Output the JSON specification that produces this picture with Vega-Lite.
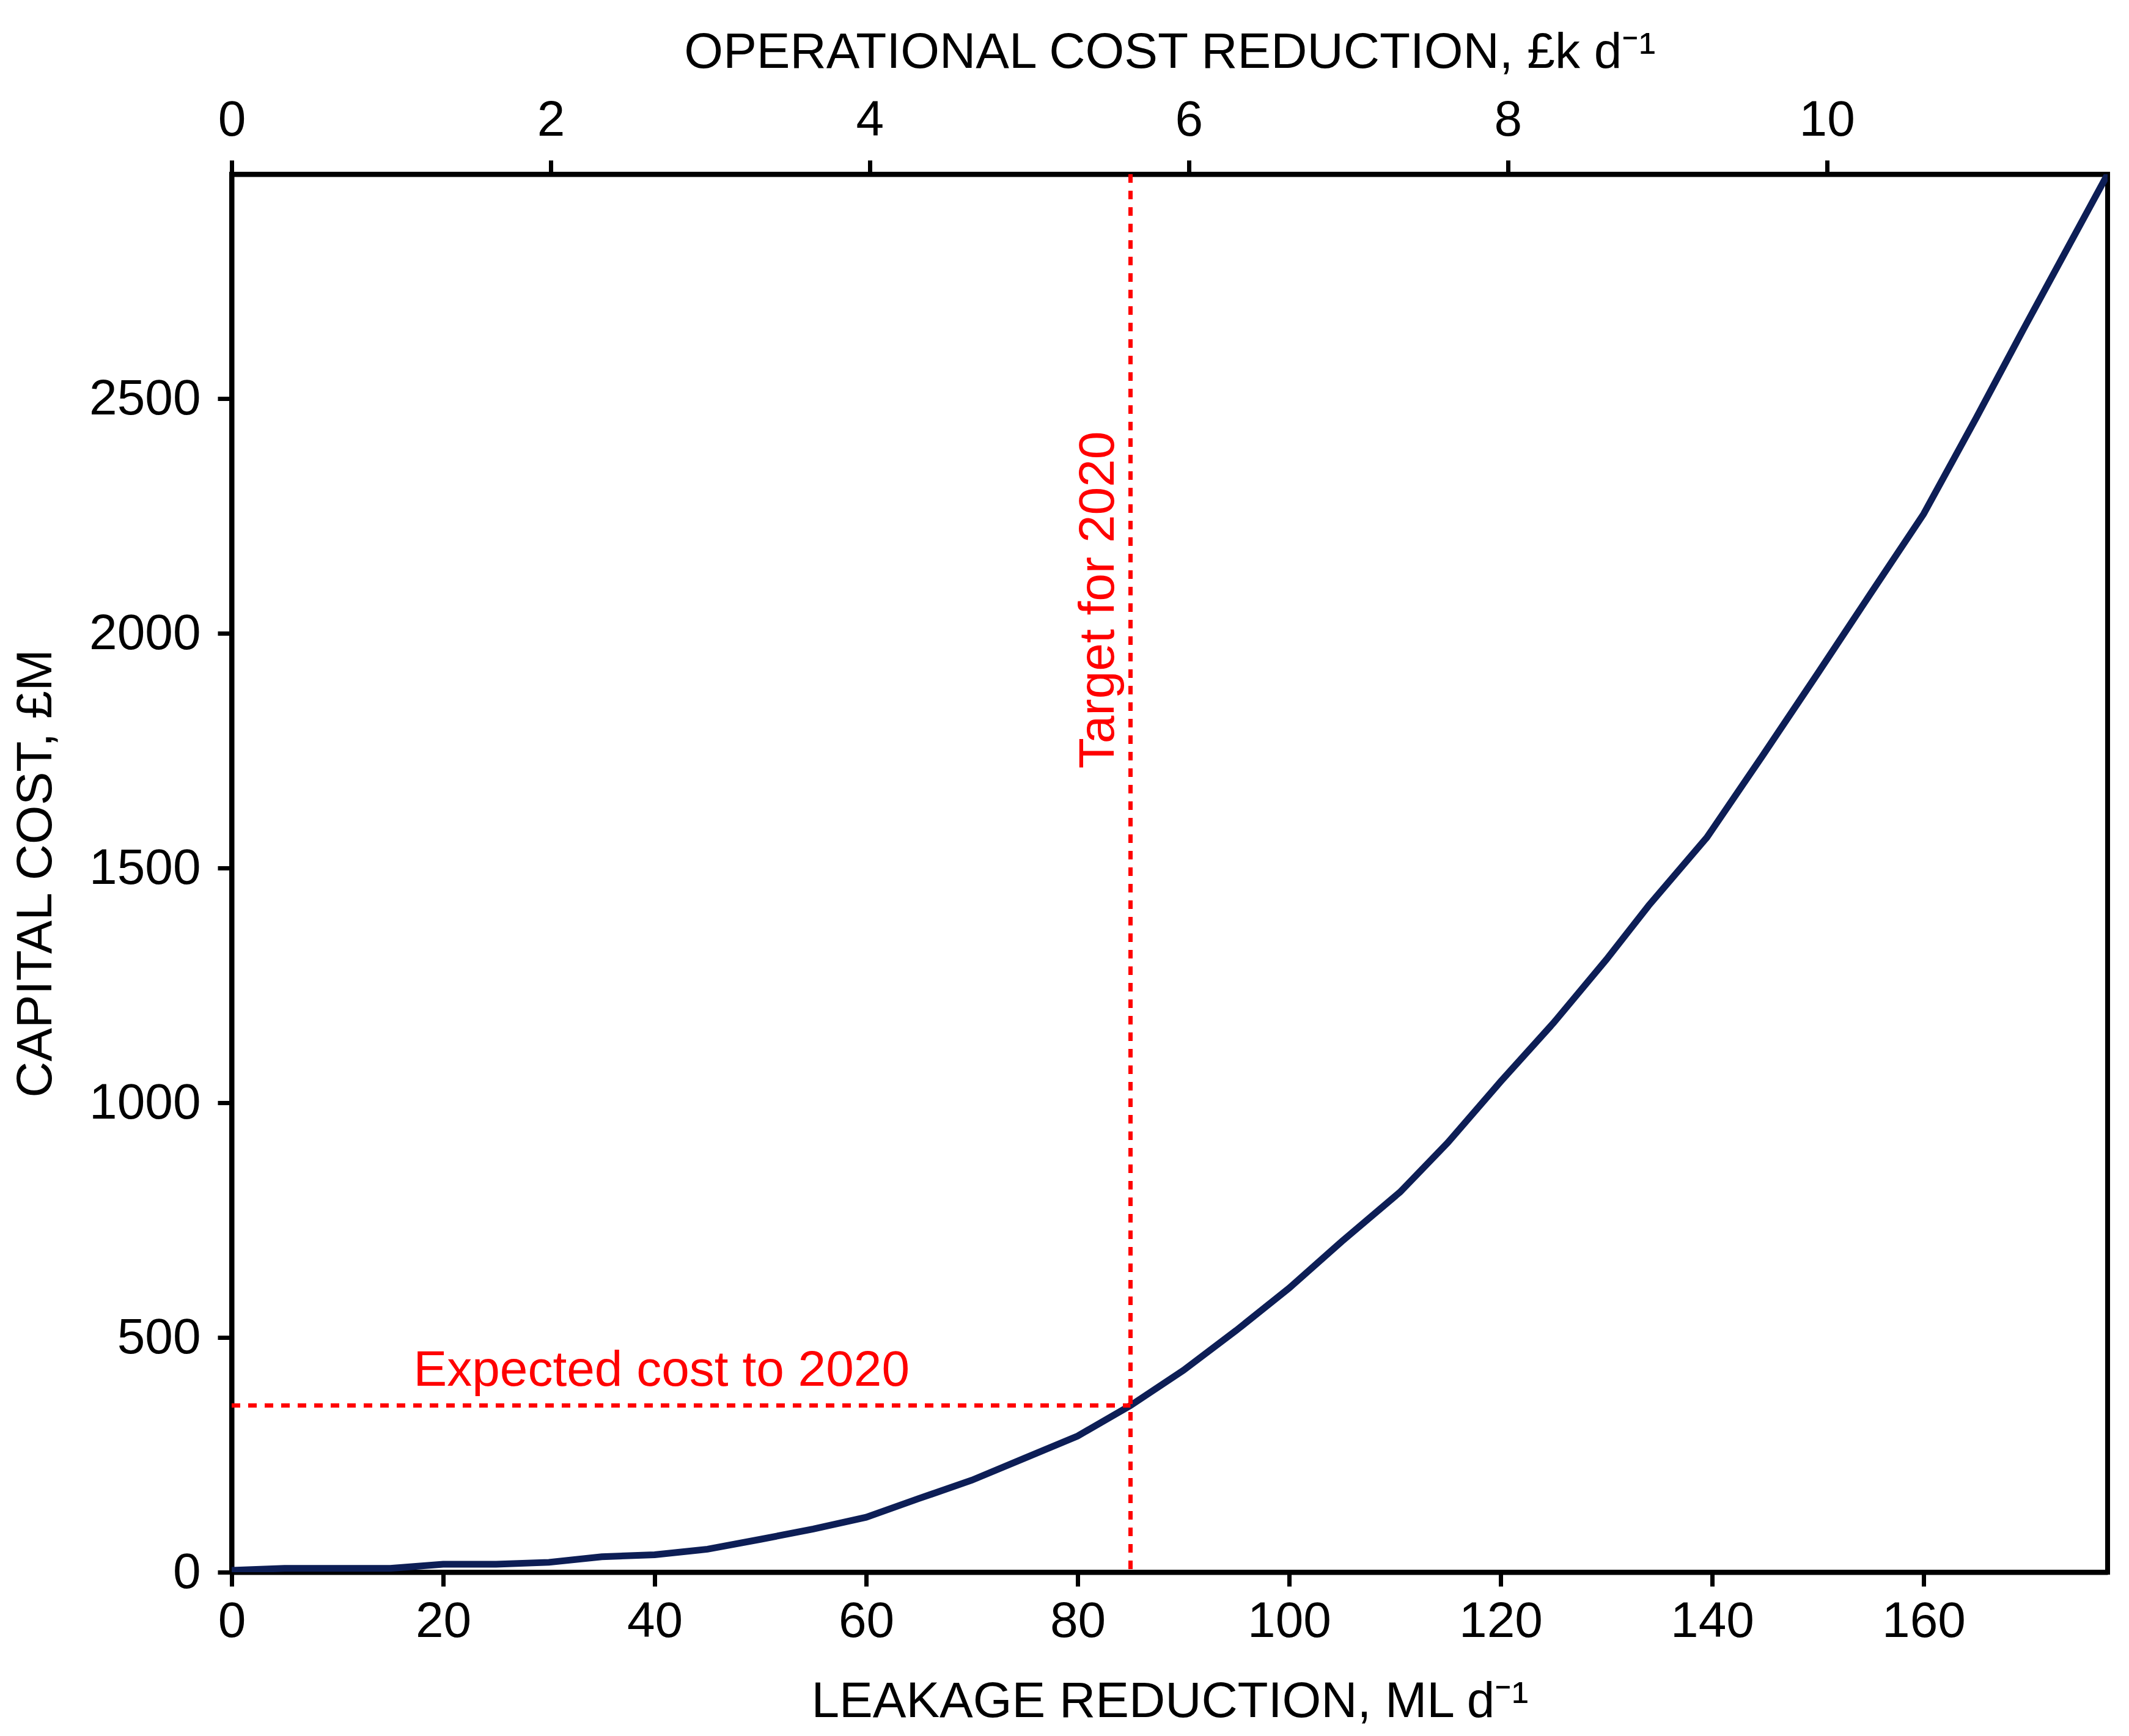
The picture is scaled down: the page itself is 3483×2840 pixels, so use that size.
{
  "$schema": "https://vega.github.io/schema/vega-lite/v6.json",
  "autosize": {"type": "none"},
  "padding": {"left": 379, "top": 285, "right": 35, "bottom": 268},
  "width": 3069,
  "height": 2287,
  "background": "white",
  "config": {
    "font": "Liberation Sans",
    "view": {"stroke": "black", "strokeWidth": 8},
    "axis": {
      "grid": false,
      "domainColor": "black",
      "domainWidth": 8,
      "tickColor": "black",
      "tickWidth": 7,
      "tickSize": 23,
      "labelFont": "Liberation Sans",
      "labelFontSize": 82,
      "labelColor": "black",
      "labelFlush": false,
      "labelOverlap": false,
      "labelLimit": 0,
      "titleFont": "Liberation Sans",
      "titleFontSize": 82,
      "titleFontWeight": "normal",
      "titleColor": "black",
      "titleLimit": 0,
      "format": "d"
    }
  },
  "layer": [
    {
      "layer": [
        {
          "data": {
            "values": [
              {"leak": 0, "cost": 4},
              {"leak": 5, "cost": 8},
              {"leak": 10, "cost": 8},
              {"leak": 15, "cost": 8},
              {"leak": 20, "cost": 17},
              {"leak": 25, "cost": 17},
              {"leak": 30, "cost": 21},
              {"leak": 35, "cost": 33},
              {"leak": 40, "cost": 37},
              {"leak": 45, "cost": 49},
              {"leak": 50, "cost": 70},
              {"leak": 55, "cost": 92},
              {"leak": 60, "cost": 117},
              {"leak": 65, "cost": 157},
              {"leak": 70, "cost": 196},
              {"leak": 75, "cost": 243},
              {"leak": 80, "cost": 290},
              {"leak": 85, "cost": 355},
              {"leak": 90, "cost": 430},
              {"leak": 95, "cost": 515},
              {"leak": 100, "cost": 605},
              {"leak": 105, "cost": 705},
              {"leak": 110.5, "cost": 810},
              {"leak": 115, "cost": 915},
              {"leak": 120, "cost": 1045},
              {"leak": 125, "cost": 1170},
              {"leak": 130, "cost": 1305},
              {"leak": 134, "cost": 1420},
              {"leak": 139.5, "cost": 1565},
              {"leak": 144.7, "cost": 1737},
              {"leak": 150, "cost": 1915},
              {"leak": 155, "cost": 2085},
              {"leak": 160, "cost": 2254},
              {"leak": 165, "cost": 2460},
              {"leak": 169.4, "cost": 2646},
              {"leak": 177.4, "cost": 2978}
            ]
          },
          "mark": {"type": "line", "color": "#0d1e56", "strokeWidth": 11, "clip": true},
          "encoding": {
            "x": {
              "field": "leak",
              "type": "quantitative",
              "scale": {"domain": [0, 177.4], "nice": false, "zero": false},
              "axis": {
                "orient": "bottom",
                "values": [0, 20, 40, 60, 80, 100, 120, 140, 160],
                "labelPadding": 17,
                "titlePadding": 50
              },
              "title": "LEAKAGE REDUCTION, ML d⁻¹"
            },
            "y": {
              "field": "cost",
              "type": "quantitative",
              "scale": {"domain": [0, 2978], "nice": false},
              "axis": {
                "values": [0, 500, 1000, 1500, 2000, 2500],
                "labelPadding": 28,
                "titlePadding": 79
              },
              "title": "CAPITAL COST, £M"
            }
          }
        },
        {
          "data": {"values": [{"leak": 85}]},
          "mark": {"type": "rule", "color": "#ff0000", "strokeWidth": 7, "strokeDash": [14, 13]},
          "encoding": {
            "x": {"field": "leak", "type": "quantitative", "title": "LEAKAGE REDUCTION, ML d⁻¹"}
          }
        },
        {
          "data": {"values": [{"leak": 0, "leak2": 85, "cost": 355}]},
          "mark": {"type": "rule", "color": "#ff0000", "strokeWidth": 7, "strokeDash": [14, 13]},
          "encoding": {
            "x": {"field": "leak", "type": "quantitative", "title": "LEAKAGE REDUCTION, ML d⁻¹"},
            "x2": {"field": "leak2"},
            "y": {"field": "cost", "type": "quantitative", "title": "CAPITAL COST, £M"}
          }
        },
        {
          "data": {"values": [{"leak": 17.2, "cost": 397, "label": "Expected cost to 2020"}]},
          "mark": {"type": "text", "color": "#ff0000", "fontSize": 82, "font": "Liberation Sans", "align": "left", "baseline": "alphabetic"},
          "encoding": {
            "x": {"field": "leak", "type": "quantitative", "title": "LEAKAGE REDUCTION, ML d⁻¹"},
            "y": {"field": "cost", "type": "quantitative", "title": "CAPITAL COST, £M"},
            "text": {"field": "label"}
          }
        },
        {
          "data": {"values": [{"leak": 83.4, "cost": 1712, "label": "Target for 2020"}]},
          "mark": {"type": "text", "color": "#ff0000", "fontSize": 82, "font": "Liberation Sans", "align": "left", "baseline": "alphabetic", "angle": 270},
          "encoding": {
            "x": {"field": "leak", "type": "quantitative", "title": "LEAKAGE REDUCTION, ML d⁻¹"},
            "y": {"field": "cost", "type": "quantitative", "title": "CAPITAL COST, £M"},
            "text": {"field": "label"}
          }
        }
      ]
    },
    {
      "data": {"values": [{"op": 0}, {"op": 11.76}]},
      "mark": {"type": "point", "opacity": 0},
      "encoding": {
        "x": {
          "field": "op",
          "type": "quantitative",
          "scale": {"domain": [0, 11.76], "nice": false, "zero": false},
          "axis": {
            "orient": "top",
            "values": [0, 2, 4, 6, 8, 10],
            "labelPadding": 24,
            "titlePadding": 28
          },
          "title": "OPERATIONAL COST REDUCTION, £k d⁻¹"
        }
      }
    }
  ],
  "resolve": {"scale": {"x": "independent"}, "axis": {"x": "independent"}}
}
